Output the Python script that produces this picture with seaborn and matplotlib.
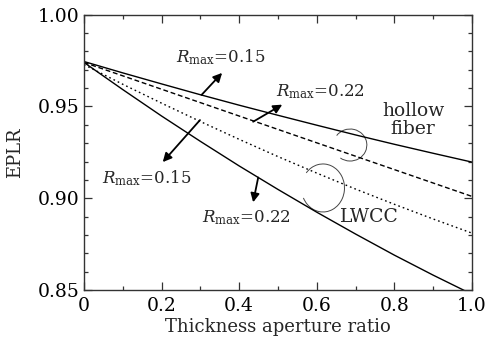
import matplotlib
matplotlib.use("Agg")
import matplotlib.pyplot as plt
from matplotlib.patches import Arc
from matplotlib.ticker import MultipleLocator
from matplotlib.transforms import ScaledTranslation
import seaborn as sns
import pandas as pd

# ---- data ----
x_ratio = [0.0, 0.1, 0.2, 0.3, 0.4, 0.5, 0.6, 0.7, 0.8, 0.9, 1.0]
hollow_015 = [0.9745, 0.9683, 0.9623, 0.9564, 0.9507, 0.9452, 0.9398, 0.9345,
              0.9294, 0.9245, 0.9197]
hollow_022 = [0.9740, 0.9667, 0.9594, 0.9521, 0.9448, 0.9375, 0.9302, 0.9229,
              0.9156, 0.9083, 0.9010]
lwcc_015 = [0.9728, 0.9621, 0.9518, 0.9418, 0.9321, 0.9227, 0.9137, 0.9050,
            0.8967, 0.8887, 0.8810]
lwcc_022 = [0.9740, 0.9592, 0.9448, 0.9310, 0.9176, 0.9048, 0.8924, 0.8805,
            0.8690, 0.8581, 0.8477]

x_ticks = [0, 0.2, 0.4, 0.6, 0.8, 1.0]
x_tick_labels = ["0", "0.2", "0.4", "0.6", "0.8", "1.0"]
y_ticks = [0.85, 0.90, 0.95, 1.00]
y_tick_labels = ["0.85", "0.90", "0.95", "1.00"]

sns.set_theme(style="ticks")
plt.rcParams["font.family"] = ["DejaVu Serif"]
plt.rcParams["mathtext.fontset"] = "dejavuserif"

fig = plt.figure(figsize=(4.9, 3.39), dpi=100)
ax = fig.add_axes([0.1714, 0.1445, 0.7918, 0.8121])

series = [
    (hollow_015, "-"),
    (hollow_022, (0, (3.5, 2))),
    (lwcc_015, (0, (1.2, 2.2))),
    (lwcc_022, "-"),
]
for ys, ls in series:
    df = pd.DataFrame({"x": x_ratio, "y": ys})
    sns.lineplot(data=df, x="x", y="y", ax=ax, color="black", lw=1.0,
                 linestyle=ls)

ax.set_xlim(0, 1.0)
ax.set_ylim(0.85, 1.00)
ax.set_xticks(x_ticks)
ax.set_xticklabels(x_tick_labels)
ax.set_yticks(y_ticks)
ax.set_yticklabels(y_tick_labels)
ax.xaxis.set_minor_locator(MultipleLocator(0.1))
ax.yaxis.set_minor_locator(MultipleLocator(0.01))
ax.tick_params(which="both", direction="in", top=True, right=True,
               colors="#333333", labelcolor="black", labelsize=13.5)
ax.tick_params(axis="x", pad=5)
ax.tick_params(axis="y", pad=3)
ax.tick_params(which="major", length=6, width=0.9)
ax.tick_params(which="minor", length=3, width=0.9)
for s in ax.spines.values():
    s.set_linewidth(1.0)
    s.set_color("#333333")

ax.set_xlabel("Thickness aperture ratio", fontsize=13, labelpad=2)
ax.set_ylabel("EPLR", fontsize=13, labelpad=10)

tfs = 12
ax.text(0.353, 0.977, r"$R_{\rm max}$=0.15", fontsize=tfs, ha="center", va="center")
ax.text(0.608, 0.958, r"$R_{\rm max}$=0.22", fontsize=tfs, ha="center", va="center")
ax.text(0.161, 0.911, r"$R_{\rm max}$=0.15", fontsize=tfs, ha="center", va="center")
ax.text(0.419, 0.8895, r"$R_{\rm max}$=0.22", fontsize=tfs, ha="center", va="center")
ax.text(0.848, 0.9426, "hollow\nfiber", fontsize=13.5, ha="center", va="center",
        linespacing=0.95)
ax.text(0.735, 0.8898, "LWCC", fontsize=13.5, ha="center", va="center")

arrows = [
    ((0.303, 0.9563), (0.356, 0.9683)),
    ((0.436, 0.9417), (0.511, 0.9510)),
    ((0.299, 0.9426), (0.203, 0.9197)),
    ((0.449, 0.9113), (0.436, 0.8978)),
]
for tail, tip in arrows:
    ax.annotate("", xy=tip, xytext=tail,
                arrowprops=dict(arrowstyle="-|>", color="black", lw=1.3,
                                mutation_scale=13, shrinkA=0, shrinkB=0))

# circles marking the curve groups (size in inches, centred in data coords)
for (cx, cy), w, h, t1, t2 in [((0.686, 0.929), 0.334, 0.32, -127, 145),
                               ((0.616, 0.9056), 0.43, 0.48, -153, 138)]:
    trans = fig.dpi_scale_trans + ScaledTranslation(cx, cy, ax.transData)
    ax.add_patch(Arc((0, 0), w, h, theta1=t1, theta2=t2, transform=trans,
                     color="#444444", lw=0.7))

fig.savefig("out.png", dpi=100)
